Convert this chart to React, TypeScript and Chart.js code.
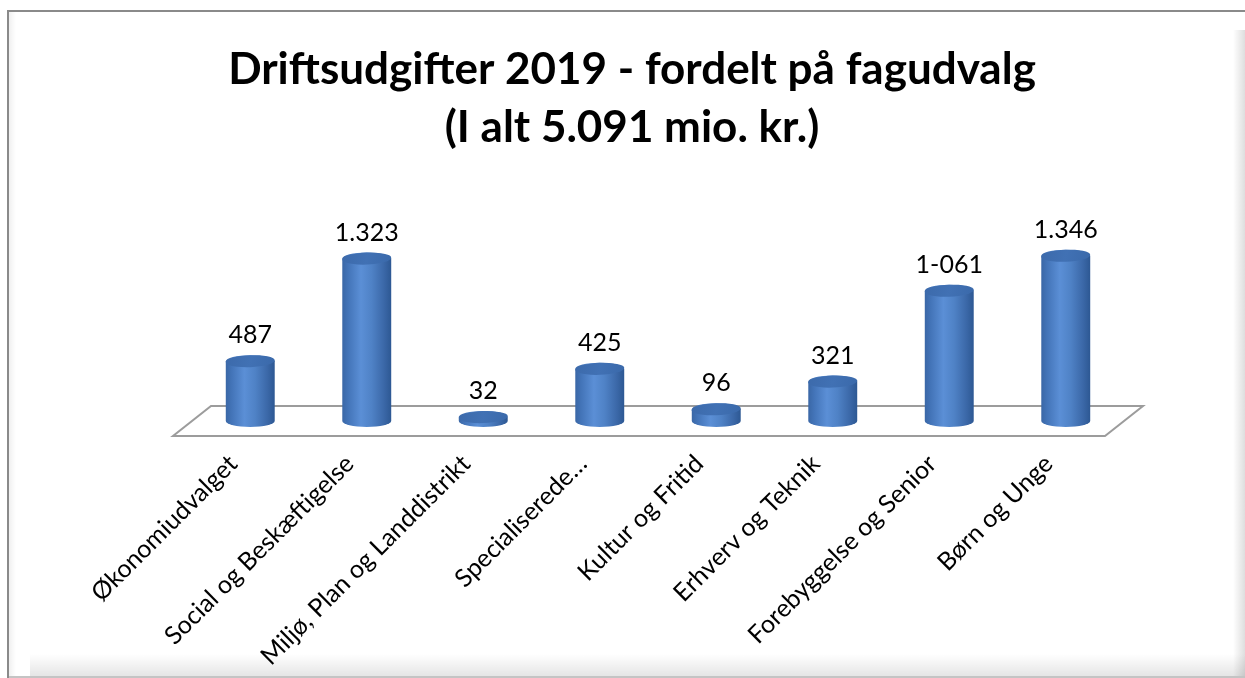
import React, { useEffect, useRef } from "react";
import { Chart, registerables } from "chart.js";

Chart.register(...registerables);

const CATEGORIES = [
  "Økonomiudvalget",
  "Social og Beskæftigelse",
  "Miljø, Plan og Landdistrikt",
  "Specialiserede…",
  "Kultur og Fritid",
  "Erhverv og Teknik",
  "Forebyggelse og Senior",
  "Børn og Unge",
];
const VALUES = [487, 1323, 32, 425, 96, 321, 1061, 1346];
const VALUE_LABELS = ["487", "1.323", "32", "425", "96", "321", "1-061", "1.346"];
const TITLE_LINES = ["Driftsudgifter 2019 - fordelt på fagudvalg", "(I alt 5.091 mio. kr.)"];
const Y_MAX = 1800;

const W = 1245;
const H = 678;

function drawCylinder(ctx: CanvasRenderingContext2D, cx: number, topY: number, baseY: number, rx: number, ry: number) {
  const left = cx - rx;
  const right = cx + rx;
  const g = ctx.createLinearGradient(left, 0, right, 0);
  g.addColorStop(0, "#3a67a6");
  g.addColorStop(0.12, "#4374b8");
  g.addColorStop(0.38, "#5b8fd6");
  g.addColorStop(0.6, "#4f82c6");
  g.addColorStop(0.85, "#3b68a8");
  g.addColorStop(1, "#2d5893");
  ctx.save();
  ctx.beginPath();
  ctx.moveTo(left, topY);
  ctx.lineTo(left, baseY);
  ctx.ellipse(cx, baseY, rx, ry, 0, Math.PI, 0, true);
  ctx.lineTo(right, topY);
  ctx.ellipse(cx, topY, rx, ry, 0, 0, Math.PI, true);
  ctx.closePath();
  ctx.fillStyle = g;
  ctx.fill();
  const tg = ctx.createLinearGradient(left, topY - ry, right, topY + ry);
  tg.addColorStop(0, "#3c6aab");
  tg.addColorStop(0.5, "#4171b4");
  tg.addColorStop(1, "#3a69aa");
  ctx.beginPath();
  ctx.ellipse(cx, topY, rx, ry, -0.04, 0, Math.PI * 2);
  ctx.fillStyle = tg;
  ctx.fill();
  ctx.restore();
}

const framePlugin = {
  id: "frame",
  beforeDraw(chart: any) {
    const ctx = chart.ctx as CanvasRenderingContext2D;
    ctx.save();
    ctx.fillStyle = "#ffffff";
    ctx.fillRect(0, 0, W, H);
    const rg = ctx.createLinearGradient(W - 12, 0, W, 0);
    rg.addColorStop(0, "rgba(0,0,0,0)");
    rg.addColorStop(1, "rgba(0,0,0,0.13)");
    ctx.fillStyle = rg;
    ctx.fillRect(W - 12, 30, 12, H - 30);
    const bg = ctx.createLinearGradient(0, H - 24, 0, H - 2);
    bg.addColorStop(0, "rgba(0,0,0,0)");
    bg.addColorStop(1, "rgba(0,0,0,0.1)");
    ctx.fillStyle = bg;
    ctx.fillRect(30, H - 24, W - 30, 22);
    ctx.fillStyle = "#c4c4c4";
    ctx.fillRect(9, H - 2, W - 9, 2);
    const lg = ctx.createLinearGradient(9, 0, 16, 0);
    lg.addColorStop(0, "rgba(0,0,0,0.06)");
    lg.addColorStop(1, "rgba(0,0,0,0)");
    ctx.fillStyle = lg;
    ctx.fillRect(9, 12, 7, H - 14);
    ctx.fillStyle = "#8a8a8a";
    ctx.fillRect(7, 10, 2, H - 10);
    ctx.fillRect(7, 10, W - 7, 2);
    ctx.restore();
  },
};

const floorPlugin = {
  id: "floor3d",
  beforeDatasetsDraw(chart: any) {
    const ctx = chart.ctx as CanvasRenderingContext2D;
    const xs = chart.scales.x;
    const ys = chart.scales.y;
    const zero = ys.getPixelForValue(0);
    const L = xs.left;
    const R = xs.right;
    const dx = 19;
    const dy = 15;
    ctx.save();
    ctx.beginPath();
    ctx.moveTo(L - dx, zero + dy);
    ctx.lineTo(R - dx, zero + dy);
    ctx.lineTo(R + dx, zero - dy);
    ctx.lineTo(L + dx, zero - dy);
    ctx.closePath();
    ctx.fillStyle = "#ffffff";
    ctx.fill();
    ctx.strokeStyle = "#9c9c9c";
    ctx.lineWidth = 2;
    ctx.stroke();
    ctx.restore();
  },
  afterDatasetsDraw(chart: any) {
    const ctx = chart.ctx as CanvasRenderingContext2D;
    const meta = chart.getDatasetMeta(0);
    meta.data.forEach((bar: any, i: number) => {
      const rx = bar.width / 2;
      drawCylinder(ctx, bar.x, bar.y, bar.base, rx, 6);
      ctx.save();
      ctx.fillStyle = "#000000";
      ctx.font = "25px Lato";
      ctx.textAlign = "center";
      ctx.textBaseline = "middle";
      ctx.fillText(VALUE_LABELS[i], bar.x, bar.y - 26);
      ctx.restore();
    });
  },
};

export default function App() {
  const ref = useRef<HTMLCanvasElement | null>(null);
  useEffect(() => {
    if (!ref.current) return;
    const chart = new Chart(ref.current, {
      type: "bar",
      data: {
        labels: CATEGORIES,
        datasets: [
          {
            data: VALUES,
            backgroundColor: "rgba(0,0,0,0)",
            borderWidth: 0,
            categoryPercentage: 1,
            barPercentage: 0.42,
          },
        ],
      },
      options: {
        animation: false,
        responsive: false,
        layout: { padding: { left: 140, right: 121, top: 0, bottom: 0 } },
        plugins: {
          legend: { display: false },
          tooltip: { enabled: false },
          title: {
            display: true,
            text: TITLE_LINES,
            color: "#000000",
            font: { family: "Lato", size: 44, weight: "bold", lineHeight: "58px" },
            padding: { top: 41, bottom: 43 },
          },
        },
        scales: {
          x: {
            grid: { display: false, drawTicks: false },
            border: { display: false },
            ticks: {
              autoSkip: false,
              minRotation: 45,
              maxRotation: 45,
              padding: 28,
              labelOffset: -17,
              color: "#000000",
              font: { family: "Lato", size: 25 },
            },
            afterFit: (s: any) => {
              s.paddingLeft = 0;
              s.paddingRight = 0;
              s.height = 257;
            },
          },
          y: {
            min: 0,
            max: Y_MAX,
            grid: { display: false, drawTicks: false },
            border: { display: false },
            ticks: { display: false },
            afterFit: (s: any) => {
              s.width = 52;
            },
          },
        },
      },
      plugins: [framePlugin, floorPlugin],
    } as any);
    return () => chart.destroy();
  }, []);
  return (
    <div style={{ position: "absolute", left: 0, top: 0, width: W, height: H }}>
      <canvas ref={ref} width={W} height={H} style={{ display: "block" }} />
    </div>
  );
}
